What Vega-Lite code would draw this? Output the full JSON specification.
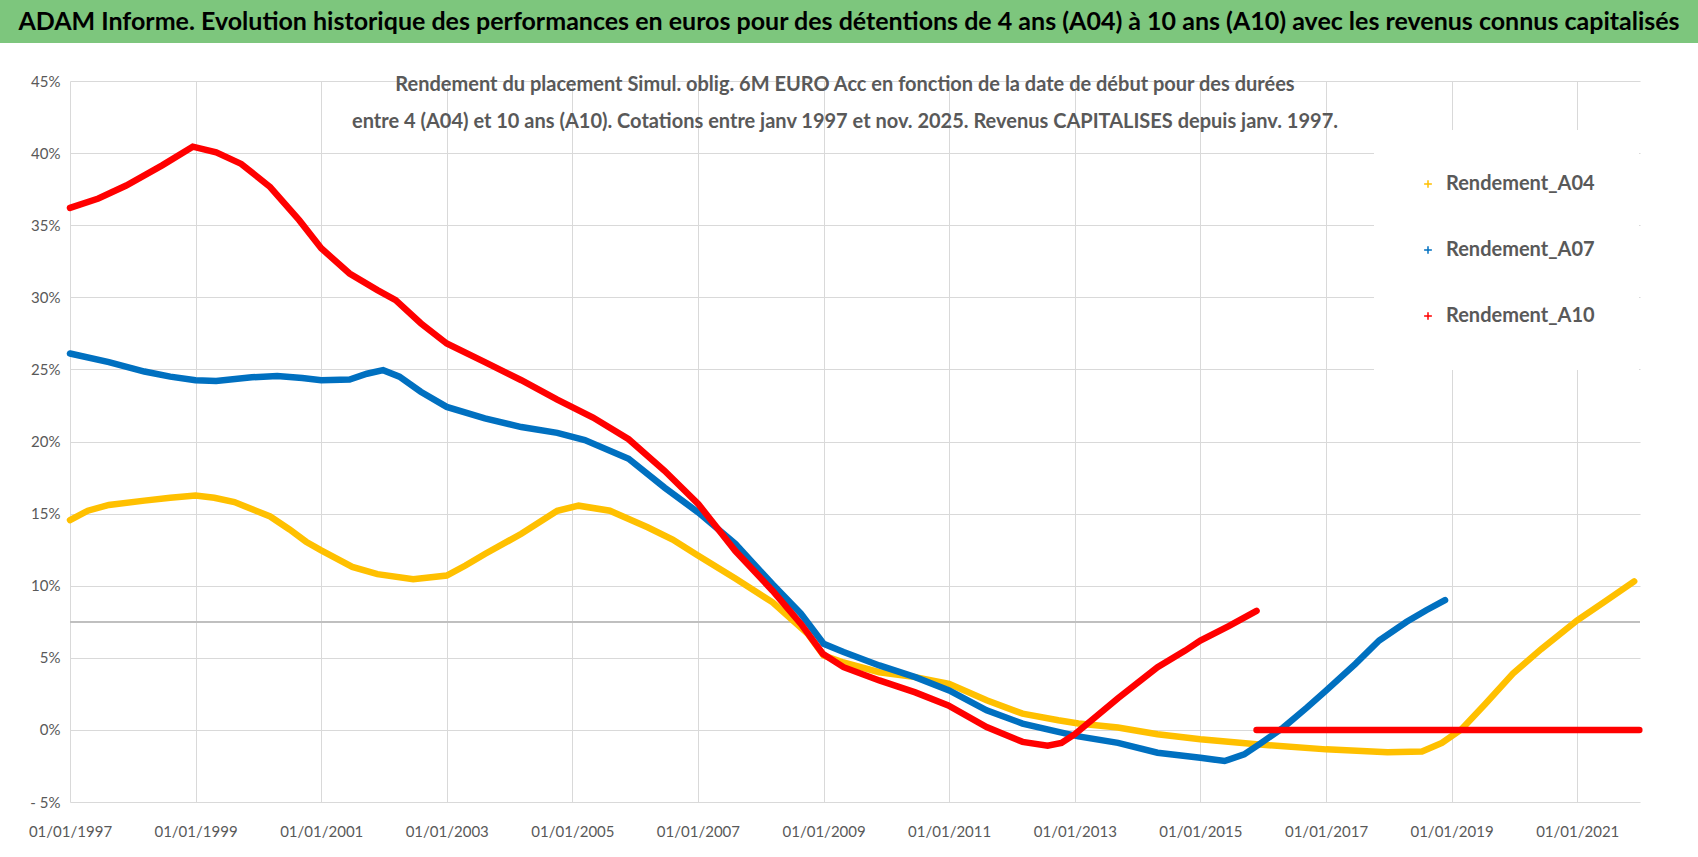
{
  "$schema": "https://vega.github.io/schema/vega-lite/v6.json",
  "background": "white",
  "padding": 0,
  "spacing": 31,
  "config": {"font": "Lato", "view": {"stroke": null}},
  "vconcat": [
    {
      "width": 1698,
      "height": 43,
      "view": {"fill": "#7DC67D", "stroke": null},
      "data": {"values": [{"t": "ADAM Informe. Evolution historique des performances en euros pour des détentions de 4 ans (A04) à 10 ans (A10) avec les revenus connus capitalisés"}]},
      "mark": {"type": "text", "font": "Lato", "fontSize": 25, "fontWeight": "bold", "color": "black"},
      "encoding": {"text": {"field": "t"}}
    },
    {
      "width": 1640,
      "height": 721,
      "title": {
        "text": ["Rendement du placement Simul. oblig. 6M EURO Acc en fonction de la date de début pour des durées", "entre 4 (A04) et 10 ans (A10). Cotations entre janv 1997 et nov. 2025. Revenus CAPITALISES depuis janv. 1997."],
        "anchor": "middle",
        "offset": -58,
        "dx": 25,
        "font": "Lato",
        "fontSize": 20,
        "fontWeight": "bold",
        "color": "#595959",
        "lineHeight": 37
      },
      "data": {"values": [
        {"d":"1997-01-01","s":"Rendement_A04","g":"a","v":14.55},
        {"d":"1997-04-15","s":"Rendement_A04","g":"a","v":15.2},
        {"d":"1997-08-15","s":"Rendement_A04","g":"a","v":15.6},
        {"d":"1998-03-10","s":"Rendement_A04","g":"a","v":15.9},
        {"d":"1998-08-07","s":"Rendement_A04","g":"a","v":16.1},
        {"d":"1999-01-01","s":"Rendement_A04","g":"a","v":16.25},
        {"d":"1999-04-20","s":"Rendement_A04","g":"a","v":16.1},
        {"d":"1999-08-15","s":"Rendement_A04","g":"a","v":15.8},
        {"d":"2000-03-10","s":"Rendement_A04","g":"a","v":14.8},
        {"d":"2000-07-01","s":"Rendement_A04","g":"a","v":13.9},
        {"d":"2000-10-05","s":"Rendement_A04","g":"a","v":13.05},
        {"d":"2001-01-01","s":"Rendement_A04","g":"a","v":12.45},
        {"d":"2001-07-01","s":"Rendement_A04","g":"a","v":11.3},
        {"d":"2001-11-24","s":"Rendement_A04","g":"a","v":10.8},
        {"d":"2002-06-20","s":"Rendement_A04","g":"a","v":10.45},
        {"d":"2003-01-01","s":"Rendement_A04","g":"a","v":10.7},
        {"d":"2003-04-20","s":"Rendement_A04","g":"a","v":11.4},
        {"d":"2003-08-11","s":"Rendement_A04","g":"a","v":12.2},
        {"d":"2004-03-10","s":"Rendement_A04","g":"a","v":13.6},
        {"d":"2004-10-05","s":"Rendement_A04","g":"a","v":15.2},
        {"d":"2005-02-06","s":"Rendement_A04","g":"a","v":15.55},
        {"d":"2005-08-07","s":"Rendement_A04","g":"a","v":15.2},
        {"d":"2006-03-14","s":"Rendement_A04","g":"a","v":14.05},
        {"d":"2006-08-07","s":"Rendement_A04","g":"a","v":13.2},
        {"d":"2007-01-01","s":"Rendement_A04","g":"a","v":12.1},
        {"d":"2007-08-07","s":"Rendement_A04","g":"a","v":10.5},
        {"d":"2008-03-10","s":"Rendement_A04","g":"a","v":8.85},
        {"d":"2008-10-01","s":"Rendement_A04","g":"a","v":6.66},
        {"d":"2009-01-01","s":"Rendement_A04","g":"a","v":5.16},
        {"d":"2009-04-20","s":"Rendement_A04","g":"a","v":4.7},
        {"d":"2009-11-21","s":"Rendement_A04","g":"a","v":4.0},
        {"d":"2010-06-18","s":"Rendement_A04","g":"a","v":3.66},
        {"d":"2011-01-01","s":"Rendement_A04","g":"a","v":3.2},
        {"d":"2011-08-07","s":"Rendement_A04","g":"a","v":2.05},
        {"d":"2012-03-03","s":"Rendement_A04","g":"a","v":1.13},
        {"d":"2012-09-27","s":"Rendement_A04","g":"a","v":0.67},
        {"d":"2013-01-22","s":"Rendement_A04","g":"a","v":0.45},
        {"d":"2013-09-09","s":"Rendement_A04","g":"a","v":0.16},
        {"d":"2014-04-27","s":"Rendement_A04","g":"a","v":-0.3},
        {"d":"2015-01-01","s":"Rendement_A04","g":"a","v":-0.65},
        {"d":"2015-11-24","s":"Rendement_A04","g":"a","v":-1.0},
        {"d":"2017-01-01","s":"Rendement_A04","g":"a","v":-1.35},
        {"d":"2017-12-24","s":"Rendement_A04","g":"a","v":-1.55},
        {"d":"2018-07-13","s":"Rendement_A04","g":"a","v":-1.5},
        {"d":"2018-11-06","s":"Rendement_A04","g":"a","v":-0.9},
        {"d":"2019-02-28","s":"Rendement_A04","g":"a","v":0.05},
        {"d":"2019-07-16","s":"Rendement_A04","g":"a","v":1.8},
        {"d":"2019-12-24","s":"Rendement_A04","g":"a","v":3.9},
        {"d":"2020-06-05","s":"Rendement_A04","g":"a","v":5.6},
        {"d":"2021-01-01","s":"Rendement_A04","g":"a","v":7.6},
        {"d":"2021-06-10","s":"Rendement_A04","g":"a","v":8.9},
        {"d":"2021-11-28","s":"Rendement_A04","g":"a","v":10.3},
        {"d":"1997-01-01","s":"Rendement_A07","g":"a","v":26.1},
        {"d":"1997-08-15","s":"Rendement_A07","g":"a","v":25.5},
        {"d":"1998-03-10","s":"Rendement_A07","g":"a","v":24.85},
        {"d":"1998-08-07","s":"Rendement_A07","g":"a","v":24.5},
        {"d":"1999-01-01","s":"Rendement_A07","g":"a","v":24.25},
        {"d":"1999-05-01","s":"Rendement_A07","g":"a","v":24.2},
        {"d":"1999-11-24","s":"Rendement_A07","g":"a","v":24.45},
        {"d":"2000-04-20","s":"Rendement_A07","g":"a","v":24.55},
        {"d":"2000-09-13","s":"Rendement_A07","g":"a","v":24.4},
        {"d":"2001-01-01","s":"Rendement_A07","g":"a","v":24.25},
        {"d":"2001-06-15","s":"Rendement_A07","g":"a","v":24.3},
        {"d":"2001-09-24","s":"Rendement_A07","g":"a","v":24.7},
        {"d":"2001-12-27","s":"Rendement_A07","g":"a","v":24.95},
        {"d":"2002-04-01","s":"Rendement_A07","g":"a","v":24.5},
        {"d":"2002-08-03","s":"Rendement_A07","g":"a","v":23.45},
        {"d":"2003-01-01","s":"Rendement_A07","g":"a","v":22.4},
        {"d":"2003-08-11","s":"Rendement_A07","g":"a","v":21.6},
        {"d":"2004-03-10","s":"Rendement_A07","g":"a","v":21.0},
        {"d":"2004-10-05","s":"Rendement_A07","g":"a","v":20.6},
        {"d":"2005-03-14","s":"Rendement_A07","g":"a","v":20.1},
        {"d":"2005-11-24","s":"Rendement_A07","g":"a","v":18.8},
        {"d":"2006-06-21","s":"Rendement_A07","g":"a","v":16.8},
        {"d":"2007-01-04","s":"Rendement_A07","g":"a","v":15.07},
        {"d":"2007-08-07","s":"Rendement_A07","g":"a","v":12.9},
        {"d":"2008-03-10","s":"Rendement_A07","g":"a","v":10.1},
        {"d":"2008-08-22","s":"Rendement_A07","g":"a","v":8.06},
        {"d":"2009-01-01","s":"Rendement_A07","g":"a","v":5.97},
        {"d":"2009-04-27","s":"Rendement_A07","g":"a","v":5.4},
        {"d":"2009-11-21","s":"Rendement_A07","g":"a","v":4.47},
        {"d":"2010-06-18","s":"Rendement_A07","g":"a","v":3.66},
        {"d":"2011-01-01","s":"Rendement_A07","g":"a","v":2.74},
        {"d":"2011-08-07","s":"Rendement_A07","g":"a","v":1.36},
        {"d":"2012-03-03","s":"Rendement_A07","g":"a","v":0.44},
        {"d":"2012-09-27","s":"Rendement_A07","g":"a","v":-0.14},
        {"d":"2013-01-22","s":"Rendement_A07","g":"a","v":-0.45},
        {"d":"2013-09-09","s":"Rendement_A07","g":"a","v":-0.9},
        {"d":"2014-04-27","s":"Rendement_A07","g":"a","v":-1.58},
        {"d":"2015-01-01","s":"Rendement_A07","g":"a","v":-1.93},
        {"d":"2015-05-22","s":"Rendement_A07","g":"a","v":-2.16},
        {"d":"2015-09-13","s":"Rendement_A07","g":"a","v":-1.7},
        {"d":"2015-12-09","s":"Rendement_A07","g":"a","v":-1.0},
        {"d":"2016-04-27","s":"Rendement_A07","g":"a","v":0.16},
        {"d":"2016-09-13","s":"Rendement_A07","g":"a","v":1.56},
        {"d":"2017-01-01","s":"Rendement_A07","g":"a","v":2.72},
        {"d":"2017-06-21","s":"Rendement_A07","g":"a","v":4.58},
        {"d":"2017-11-06","s":"Rendement_A07","g":"a","v":6.2},
        {"d":"2018-04-15","s":"Rendement_A07","g":"a","v":7.5},
        {"d":"2018-08-07","s":"Rendement_A07","g":"a","v":8.3},
        {"d":"2018-11-24","s":"Rendement_A07","g":"a","v":9.0},
        {"d":"1997-01-01","s":"Rendement_A10","g":"a","v":36.2},
        {"d":"1997-06-15","s":"Rendement_A10","g":"a","v":36.85},
        {"d":"1997-11-24","s":"Rendement_A10","g":"a","v":37.75},
        {"d":"1998-06-21","s":"Rendement_A10","g":"a","v":39.15},
        {"d":"1998-12-16","s":"Rendement_A10","g":"a","v":40.45},
        {"d":"1999-05-01","s":"Rendement_A10","g":"a","v":40.05},
        {"d":"1999-09-24","s":"Rendement_A10","g":"a","v":39.25},
        {"d":"2000-03-10","s":"Rendement_A10","g":"a","v":37.65},
        {"d":"2000-08-26","s":"Rendement_A10","g":"a","v":35.35},
        {"d":"2001-01-01","s":"Rendement_A10","g":"a","v":33.4},
        {"d":"2001-06-15","s":"Rendement_A10","g":"a","v":31.65},
        {"d":"2001-11-24","s":"Rendement_A10","g":"a","v":30.5},
        {"d":"2002-03-10","s":"Rendement_A10","g":"a","v":29.8},
        {"d":"2002-08-03","s":"Rendement_A10","g":"a","v":28.2},
        {"d":"2003-01-01","s":"Rendement_A10","g":"a","v":26.8},
        {"d":"2003-08-11","s":"Rendement_A10","g":"a","v":25.5},
        {"d":"2004-03-10","s":"Rendement_A10","g":"a","v":24.25},
        {"d":"2004-10-05","s":"Rendement_A10","g":"a","v":22.9},
        {"d":"2005-05-01","s":"Rendement_A10","g":"a","v":21.66},
        {"d":"2005-11-24","s":"Rendement_A10","g":"a","v":20.16},
        {"d":"2006-06-21","s":"Rendement_A10","g":"a","v":17.97},
        {"d":"2007-01-04","s":"Rendement_A10","g":"a","v":15.65},
        {"d":"2007-08-07","s":"Rendement_A10","g":"a","v":12.4},
        {"d":"2008-03-10","s":"Rendement_A10","g":"a","v":9.65},
        {"d":"2008-08-22","s":"Rendement_A10","g":"a","v":7.35},
        {"d":"2008-12-27","s":"Rendement_A10","g":"a","v":5.28},
        {"d":"2009-04-27","s":"Rendement_A10","g":"a","v":4.35},
        {"d":"2009-11-21","s":"Rendement_A10","g":"a","v":3.43},
        {"d":"2010-06-18","s":"Rendement_A10","g":"a","v":2.6},
        {"d":"2010-12-27","s":"Rendement_A10","g":"a","v":1.7},
        {"d":"2011-08-07","s":"Rendement_A10","g":"a","v":0.2},
        {"d":"2012-03-03","s":"Rendement_A10","g":"a","v":-0.83},
        {"d":"2012-07-27","s":"Rendement_A10","g":"a","v":-1.1},
        {"d":"2012-10-15","s":"Rendement_A10","g":"a","v":-0.9},
        {"d":"2013-01-01","s":"Rendement_A10","g":"a","v":-0.3},
        {"d":"2013-09-09","s":"Rendement_A10","g":"a","v":2.2},
        {"d":"2014-04-27","s":"Rendement_A10","g":"a","v":4.35},
        {"d":"2014-10-05","s":"Rendement_A10","g":"a","v":5.5},
        {"d":"2015-01-01","s":"Rendement_A10","g":"a","v":6.2},
        {"d":"2015-06-15","s":"Rendement_A10","g":"a","v":7.2},
        {"d":"2015-11-24","s":"Rendement_A10","g":"a","v":8.26},
        {"d":"2015-11-24","s":"Rendement_A10","g":"b","v":0},
        {"d":"2021-12-28","s":"Rendement_A10","g":"b","v":0}
      ]},
      "layer": [
        {
          "mark": {"type": "rule", "color": "#BFBFBF", "strokeWidth": 1.5},
          "encoding": {
            "y": {"datum": 7.5, "type": "quantitative"},
            "x": {"datum": {"year": 1997, "month": 1, "date": 1}, "type": "temporal"},
            "x2": {"datum": {"year": 2022, "month": 1, "date": 1}}
          }
        },
        {
          "mark": {"type": "line", "strokeWidth": 6.5, "strokeCap": "round"},
          "encoding": {
            "x": {
              "field": "d",
              "type": "temporal",
              "scale": {"domain": [{"year": 1997, "month": 1, "date": 1}, {"year": 2022, "month": 1, "date": 1}], "nice": false, "range": [70, 1640]},
              "axis": {
                "title": null,
                "format": "%d/%m/%Y",
                "values": [
                  {"year": 1997, "month": 1, "date": 1}, {"year": 1999, "month": 1, "date": 1},
                  {"year": 2001, "month": 1, "date": 1}, {"year": 2003, "month": 1, "date": 1},
                  {"year": 2005, "month": 1, "date": 1}, {"year": 2007, "month": 1, "date": 1},
                  {"year": 2009, "month": 1, "date": 1}, {"year": 2011, "month": 1, "date": 1},
                  {"year": 2013, "month": 1, "date": 1}, {"year": 2015, "month": 1, "date": 1},
                  {"year": 2017, "month": 1, "date": 1}, {"year": 2019, "month": 1, "date": 1},
                  {"year": 2021, "month": 1, "date": 1}
                ],
                "labelFont": "Lato",
                "labelFontSize": 15,
                "labelColor": "#595959",
                "labelPadding": 22,
                "labelOverlap": false,
                "labelFlush": false,
                "ticks": false,
                "domain": false,
                "grid": true,
                "gridColor": "#D9D9D9"
              }
            },
            "y": {
              "field": "v",
              "type": "quantitative",
              "scale": {"domain": [-5, 45], "nice": false},
              "axis": {
                "title": null,
                "values": [-5, 0, 5, 10, 15, 20, 25, 30, 35, 40, 45],
                "labelExpr": "datum.value < 0 ? '- ' + abs(datum.value) + '%' : datum.value + '%'",
                "labelFont": "Lato",
                "labelFontSize": 15,
                "labelColor": "#595959",
                "labelPadding": 10,
                "offset": -70,
                "ticks": false,
                "domain": false,
                "grid": true,
                "gridColor": "#D9D9D9"
              }
            },
            "color": {
              "field": "s",
              "type": "nominal",
              "scale": {"domain": ["Rendement_A04", "Rendement_A07", "Rendement_A10"], "range": ["#FFC000", "#0070C0", "#FF0000"]},
              "legend": {
                "title": null,
                "orient": "none",
                "legendX": 1374,
                "legendY": 130,
                "fillColor": "white",
                "padding": 44,
                "rowPadding": 46,
                "symbolType": "M-1,0H1M0,-1V1",
                "symbolSize": 60,
                "symbolStrokeWidth": 1.5,
                "labelFont": "Lato",
                "labelFontSize": 20,
                "labelFontWeight": "bold",
                "labelColor": "#595959",
                "labelOffset": 8
              }
            },
            "detail": {"field": "g"}
          }
        }
      ]
    }
  ]
}
